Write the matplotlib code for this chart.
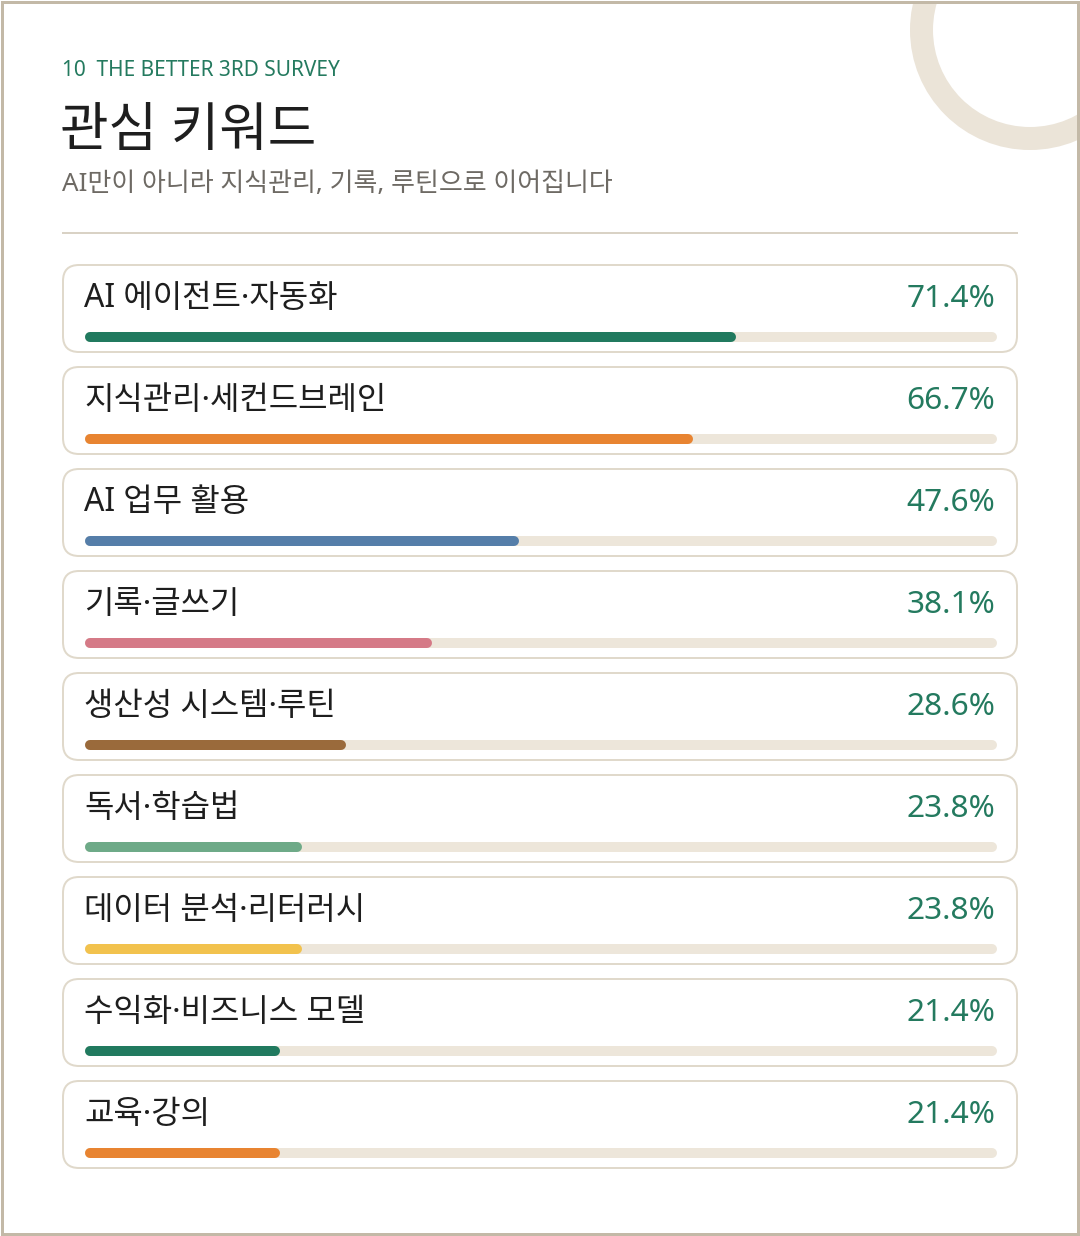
"""Interest keyword card chart (THE BETTER 3RD SURVEY, page 10)."""

import matplotlib

matplotlib.use("Agg")

import matplotlib.pyplot as plt
from matplotlib.patches import Circle, FancyBboxPatch, Rectangle

plt.rcParams["font.family"] = ["Noto Sans", "Noto Sans CJK KR", "DejaVu Sans"]

W, H = 1080, 1236
DPI = 100

keywords = [
    "AI 에이전트·자동화",
    "지식관리·세컨드브레인",
    "AI 업무 활용",
    "기록·글쓰기",
    "생산성 시스템·루틴",
    "독서·학습법",
    "데이터 분석·리터러시",
    "수익화·비즈니스 모델",
    "교육·강의",
]
shares = [71.4, 66.7, 47.6, 38.1, 28.6, 23.8, 23.8, 21.4, 21.4]
bar_colors = [
    "#217a5f", "#e88431", "#557ea9", "#d57a87", "#9a6a3b",
    "#6eaa88", "#f2c24d", "#217a5f", "#e88431",
]

kicker = "10  THE BETTER 3RD SURVEY"
title = "관심 키워드"
subtitle = "AI만이 아니라 지식관리, 기록, 루틴으로 이어집니다"

GREEN = "#247a5f"
DARK = "#1e1e1e"
GREY = "#6e6a64"
LINE = "#d9d2c5"
CARD_EDGE = "#e0d9cb"
TRACK = "#ede6da"
FRAME = "#c3b9a7"

LEFT, RIGHT = 62, 1018
CARD_TOP0, CARD_STEP, CARD_H = 265, 102, 87
TRACK_X0, TRACK_W = 85, 912
BAR_PX = 10


def px_to_pt(px):
    return px * 72 / DPI


fig = plt.figure(figsize=(W / DPI, H / DPI), dpi=DPI)
fig.patch.set_facecolor("white")

# page layer in pixel coordinates
ax = fig.add_axes([0, 0, 1, 1])
ax.set_xlim(0, W)
ax.set_ylim(H, 0)
ax.axis("off")

clip = Rectangle((3, 3), W - 6, H - 6, transform=ax.transData, facecolor="none", edgecolor="none")
ring = Circle((1030, 30), 108.5, facecolor="none", edgecolor="#ebe4d8", lw=px_to_pt(23), zorder=1)
ax.add_patch(ring)
ring.set_clip_path(clip)

ax.add_patch(Rectangle((1.5, 1.5), W - 3.5, H - 3.5, facecolor="none", edgecolor=FRAME, lw=px_to_pt(3), zorder=5))

ax.text(LEFT, 70, kicker, color=GREEN, fontsize=15, va="center", ha="left")
ax.text(LEFT - 2, 133, title, color=DARK, fontsize=38, va="center", ha="left")
ax.text(LEFT, 184, subtitle, color=GREY, fontsize=18.7, va="center", ha="left")
ax.plot([LEFT, RIGHT], [233, 233], color=LINE, lw=px_to_pt(2), solid_capstyle="butt")

card_tops = [CARD_TOP0 + CARD_STEP * i for i in range(len(keywords))]
for top, name, value in zip(card_tops, keywords, shares):
    ax.add_patch(FancyBboxPatch(
        (LEFT + 1, top), RIGHT - LEFT - 2, CARD_H,
        boxstyle="round,pad=0,rounding_size=16",
        facecolor="white", edgecolor=CARD_EDGE, lw=px_to_pt(2), zorder=2,
    ))
    ax.text(TRACK_X0 - 1, top + 33, name, color=DARK, fontsize=23, va="center", ha="left", zorder=3)
    ax.text(TRACK_X0 + TRACK_W - 2, top + 34, f"{value}%", color=GREEN, fontsize=22.8,
            va="center", ha="right", zorder=3)

# bar layer: x is the share in percent, y stays in pixels
bx = fig.add_axes([TRACK_X0 / W, 0, TRACK_W / W, 1])
bx.set_xlim(0, 100)
bx.set_ylim(H, 0)
bx.axis("off")
bx.patch.set_alpha(0)
cap = (BAR_PX / 2) * 100 / TRACK_W
bar_y = [top + 72 for top in card_tops]
bx.hlines(bar_y, cap, 100 - cap, color=TRACK, lw=px_to_pt(BAR_PX), capstyle="round", zorder=3)
for y, value, color in zip(bar_y, shares, bar_colors):
    bx.plot([cap, value - cap], [y, y], color=color, lw=px_to_pt(BAR_PX),
            solid_capstyle="round", zorder=4)

fig.savefig("out.png", dpi=DPI, facecolor="white")
